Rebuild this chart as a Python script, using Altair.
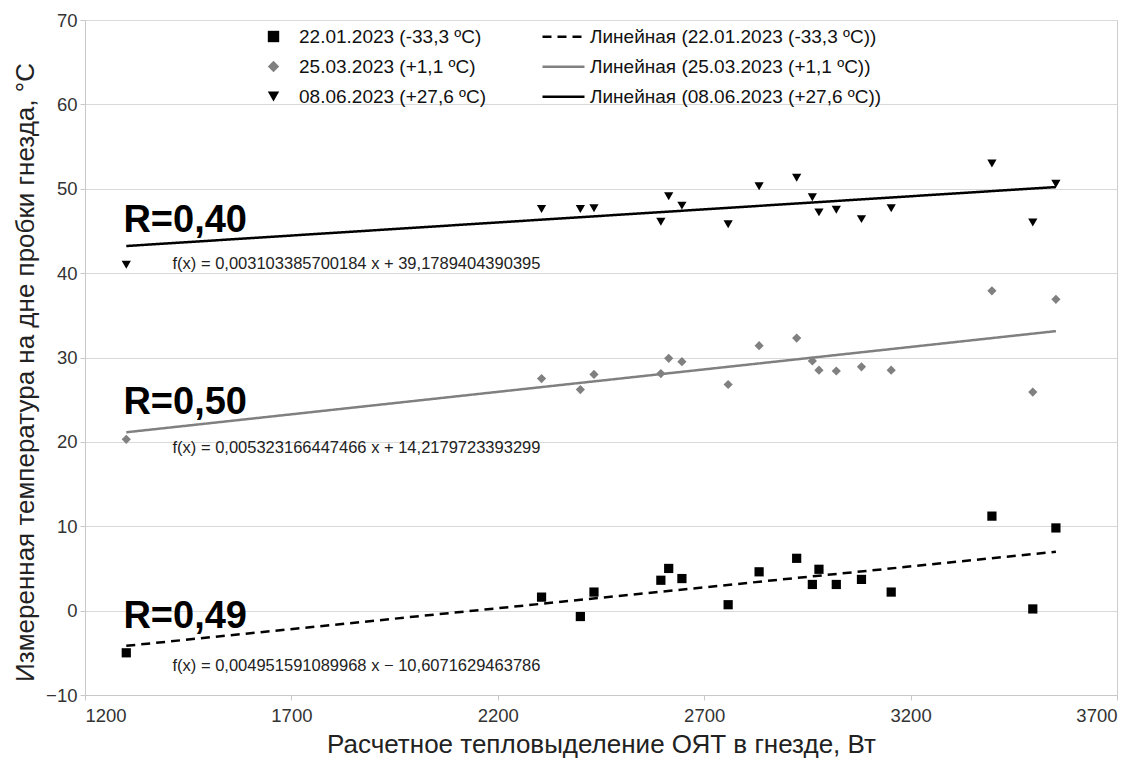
import altair as alt
import pandas as pd

# ---------------- data ----------------
heat_w = [1300, 2306, 2400, 2433, 2595, 2614, 2646, 2758, 2833, 2924,
          2962, 2978, 3020, 3081, 3153, 3397, 3496, 3552]
temp_jan = [-5.0, 1.6, -0.7, 2.2, 3.6, 5.0, 3.8, 0.7, 4.6, 6.2,
            3.1, 4.9, 3.1, 3.7, 2.2, 11.2, 0.2, 9.8]
temp_mar = [20.3, 27.5, 26.2, 28.0, 28.1, 29.9, 29.5, 26.8, 31.4, 32.3,
            29.6, 28.5, 28.4, 28.9, 28.5, 37.9, 25.9, 36.9]
temp_jun = [41.0, 47.6, 47.6, 47.7, 46.1, 49.1, 48.0, 45.8, 50.3, 51.3,
            49.0, 47.2, 47.5, 46.4, 47.7, 53.0, 46.0, 50.6]

series_names = ["22.01.2023 (-33,3 ºC)", "25.03.2023 (+1,1 ºC)", "08.06.2023 (+27,6 ºC)"]
trend_names = ["Линейная (22.01.2023 (-33,3 ºC))",
               "Линейная (25.03.2023 (+1,1 ºC))",
               "Линейная (08.06.2023 (+27,6 ºC))"]
slopes = [0.004951591089968, 0.005323166447466, 0.003103385700184]
intercepts = [-10.6071629463786, 14.2179723393299, 39.1789404390395]
r_labels = ["R=0,49", "R=0,50", "R=0,40"]
eq_labels = ["f(x) = 0,004951591089968 x − 10,6071629463786",
             "f(x) = 0,005323166447466 x + 14,2179723393299",
             "f(x) = 0,003103385700184 x + 39,1789404390395"]
x_ticks = [1200, 1700, 2200, 2700, 3200, 3700]
y_ticks = [-10, 0, 10, 20, 30, 40, 50, 60, 70]

# ---------------- layout / style ----------------
r_pos = [(1293, -2.0), (1293, 23.3), (1293, 44.9)]
eq_pos = [(1412, -7.1), (1412, 18.7), (1412, 40.5)]
series_colors = ["#000000", "#808080", "#000000"]
series_shapes = ["square", "diamond", "triangle-down"]
trend_dashes = [[9, 6], [1, 0], [1, 0]]
FONT = "Liberation Sans"

# ---------------- tables ----------------
rows = []
for name, temps in zip(series_names, [temp_jan, temp_mar, temp_jun]):
    for xv, yv in zip(heat_w, temps):
        rows.append({"x": xv, "y": yv, "pt": name})
pts = pd.DataFrame(rows)

lrows = []
for name, k, b in zip(trend_names, slopes, intercepts):
    for xv in (min(heat_w), max(heat_w)):
        lrows.append({"x": xv, "y": k * xv + b, "ln": name})
lines = pd.DataFrame(lrows)

r_df = pd.DataFrame({"x": [p[0] for p in r_pos], "y": [p[1] for p in r_pos], "t": r_labels})
eq_df = pd.DataFrame({"x": [p[0] for p in eq_pos], "y": [p[1] for p in eq_pos], "t": eq_labels})

x_enc = alt.X("x:Q", scale=alt.Scale(domain=[1200, 3700], nice=False, zero=False),
              axis=alt.Axis(values=x_ticks, grid=False, format="d",
                            title="Расчетное тепловыделение ОЯТ в гнезде, Вт",
                            titleY=57, titleBaseline="alphabetic",
                            labelPadding=6, tickSize=5))
y_enc = alt.Y("y:Q", scale=alt.Scale(domain=[-10, 70], nice=False, zero=False),
              axis=alt.Axis(values=y_ticks, grid=True, format="d",
                            title="Измеренная температура на дне пробки гнезда, °C",
                            titleX=-52, titleY=352, titleBaseline="alphabetic",
                            titleAlign="center",
                            labelPadding=3, tickSize=5))

pt_legend = alt.Legend(title=None, orient="none", legendX=179, legendY=7,
                       labelFontSize=19, labelFont=FONT, labelColor="#111111",
                       labelLimit=600, symbolSize=130, rowPadding=10,
                       labelOffset=16, padding=0, symbolStrokeWidth=0)
ln_legend = alt.Legend(title=None, orient="none", legendX=456, legendY=7,
                       labelFontSize=19, labelFont=FONT, labelColor="#111111",
                       labelLimit=600, symbolType="stroke", symbolSize=1764,
                       symbolStrokeWidth=2.5, rowPadding=10, clipHeight=19.5,
                       labelOffset=4, padding=0)

line_layer = alt.Chart(lines).mark_line(strokeWidth=2.5).encode(
    x=x_enc, y=y_enc,
    color=alt.Color("ln:N", scale=alt.Scale(domain=trend_names, range=series_colors),
                    legend=ln_legend),
    strokeDash=alt.StrokeDash("ln:N", scale=alt.Scale(domain=trend_names, range=trend_dashes),
                              legend=ln_legend),
    detail="ln:N",
)

point_layer = alt.Chart(pts).mark_point(filled=True, opacity=1, size=85).encode(
    x=x_enc, y=y_enc,
    color=alt.Color("pt:N", scale=alt.Scale(domain=series_names, range=series_colors),
                    legend=pt_legend),
    shape=alt.Shape("pt:N", scale=alt.Scale(domain=series_names, range=series_shapes),
                    legend=pt_legend),
)

r_layer = alt.Chart(r_df).mark_text(align="left", baseline="alphabetic", font=FONT,
                                    fontSize=38, fontWeight="bold", color="#000000").encode(
    x=x_enc, y=y_enc, text="t:N")
eq_layer = alt.Chart(eq_df).mark_text(align="left", baseline="alphabetic", font=FONT,
                                      fontSize=16.5, color="#222222").encode(
    x=x_enc, y=y_enc, text="t:N")

chart = alt.layer(line_layer, point_layer, r_layer, eq_layer).resolve_scale(
    color="independent", shape="independent", strokeDash="independent"
).properties(
    width=1032, height=675,
    padding={"left": 77, "top": 12, "right": 21, "bottom": 64},
    autosize=alt.AutoSizeParams(type="none"),
).configure_view(stroke="#cccccc", strokeWidth=1).configure_axis(
    labelFont=FONT, labelFontSize=18.5, labelColor="#333333",
    titleFont=FONT, titleFontSize=26, titleColor="#222222", titleFontWeight="normal",
    domainColor="#c8c8c8", tickColor="#c8c8c8", gridColor="#d9d9d9",
    domainWidth=1, tickWidth=1, gridWidth=1,
)

chart.save("out.html", embed_options={"renderer": "svg", "actions": False})
